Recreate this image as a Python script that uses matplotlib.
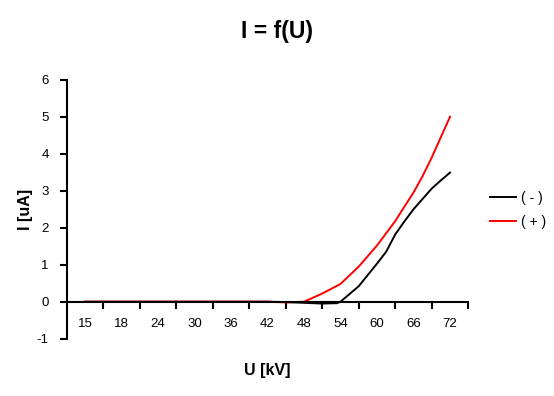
import matplotlib
matplotlib.use("Agg")
import matplotlib.pyplot as plt

categories = ["15", "18", "24", "30", "36", "42", "48", "54", "60", "66", "72"]

# x positions expressed in category-index units (0 = "15", 10 = "72")
x_minus = [0, 1, 2, 3, 4, 5, 5.5, 6, 6.5, 6.9, 7, 7.5, 8, 8.25, 8.5, 8.75, 9, 9.25, 9.5, 9.75, 10]
y_minus = [0, 0, 0, 0, 0, 0, -0.01, -0.03, -0.05, -0.04, 0, 0.42, 1.03, 1.35, 1.82, 2.17, 2.5, 2.78, 3.06, 3.28, 3.49]

x_plus = [0, 1, 2, 3, 4, 5, 5.5, 6, 6.5, 7, 7.5, 8, 8.5, 8.75, 9, 9.25, 9.5, 9.75, 10]
y_plus = [0, 0, 0, 0, 0, 0, -0.02, 0, 0.22, 0.48, 0.95, 1.52, 2.18, 2.57, 2.95, 3.4, 3.9, 4.45, 5.0]

yticks = [-1, 0, 1, 2, 3, 4, 5, 6]

plt.rcParams['font.family'] = ['Liberation Sans', 'DejaVu Sans']

fig = plt.figure(figsize=(5.54, 3.96), dpi=100)
ax = fig.add_axes([0.1204, 0.1447, 0.8453 - 0.1204, 0.7987 - 0.1447])

ax.plot(x_minus, y_minus, color="black", lw=1.4, label="( - )")
ax.plot(x_plus, y_plus, color="#ff0000", lw=1.4, label="( + )")

ax.set_xlim(-0.5, 10.5)
ax.set_ylim(-1, 6)

ax.spines['top'].set_visible(False)
ax.spines['right'].set_visible(False)
ax.spines['bottom'].set_position(('data', 0))
ax.spines['left'].set_linewidth(1.5)
ax.spines['bottom'].set_linewidth(1.5)

ax.set_xticks(range(len(categories)))
ax.set_xticklabels(categories, fontsize=9.5)
ax.set_xticks([i + 0.5 for i in range(len(categories))], minor=True)
ax.tick_params(axis='x', which='major', length=0, pad=12)
ax.tick_params(axis='x', which='minor', length=5, width=1.5, direction='out')

ax.set_yticks(yticks)
ax.set_yticklabels([str(v) for v in yticks], fontsize=9.5)
ax.tick_params(axis='y', length=5, width=1.5, direction='out', pad=8)

ax.set_xlabel("U [kV]", fontsize=11.5, fontweight='bold', labelpad=0)
ax.xaxis.set_label_coords(0.5, -0.095)
ax.set_ylabel("I [uA]", fontsize=11.5, fontweight='bold')
ax.yaxis.set_label_coords(-0.083, 0.5)

fig.text(0.5, 0.92, "I = f(U)", ha='center', va='center', fontsize=16.5, fontweight='bold')

fig.legend(loc='center left', bbox_to_anchor=(0.862, 0.47), frameon=False,
           fontsize=10, handlelength=1.9, handletextpad=0.3, labelspacing=0.75)

fig.savefig("out.png", dpi=100)
